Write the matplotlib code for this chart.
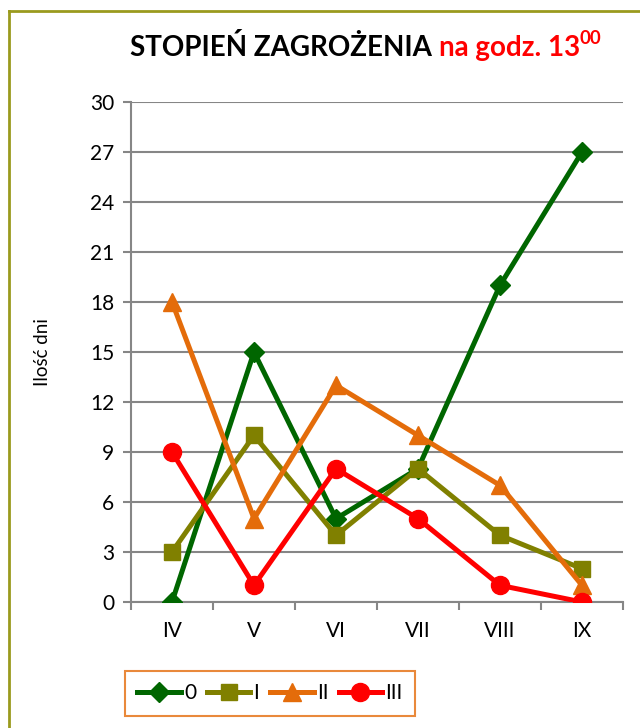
import matplotlib
matplotlib.use("Agg")
from matplotlib import pyplot as plt
from matplotlib.lines import Line2D
import numpy as np

months = ["IV", "V", "VI", "VII", "VIII", "IX"]
s0 = [0, 15, 5, 8, 19, 27]
s1 = [3, 10, 4, 8, 4, 2]
s2 = [18, 5, 13, 10, 7, 1]
s3 = [9, 1, 8, 5, 1, 0]
names = ["0", "I", "II", "III"]
colors = ["#006600", "#808000", "#E46C0A", "#FF0000"]
markers = ["D", "s", "^", "o"]
msizes = [10, 12, 13, 13]

plt.rcParams['font.family'] = ['Lato', 'DejaVu Sans']

fig = plt.figure(figsize=(6.4, 7.28), dpi=100)
ax = fig.add_axes([131/640, 1-602/728, (623-131)/640, 500/728])

x = np.arange(len(months))
for s, c, m, ms, n in zip([s0, s1, s2, s3], colors, markers, msizes, names):
    ax.plot(x, s, color=c, lw=3.6, marker=m, ms=ms, label=n, zorder=3)

ax.set_xlim(-0.5, len(months)-0.5)
ax.set_ylim(0, 30)
ax.set_yticks(range(0, 31, 3))
ax.set_xticks(x)
ax.set_xticklabels(months)
ax.set_xticks(np.arange(-0.5, len(months), 1), minor=True)
ax.tick_params(axis='x', which='major', length=0, pad=14, labelsize=15)
ax.tick_params(axis='x', which='minor', length=6, width=1.5, color="#868686", direction='out')
ax.tick_params(axis='y', length=6, width=1.5, color="#868686", labelsize=15, pad=6)
ax.yaxis.grid(True, color="#868686", lw=1.5)
ax.set_axisbelow(True)
for sp in ["top", "right"]:
    ax.spines[sp].set_visible(False)
for sp in ["left", "bottom"]:
    ax.spines[sp].set_color("#868686")
    ax.spines[sp].set_linewidth(1.5)
ax.set_ylabel("Ilość dni", fontsize=13.5, labelpad=28)

# outer border
fig.add_artist(Line2D([9/640, 9/640], [0, 1-11/728], color="#9A9A1E", lw=2, transform=fig.transFigure))
fig.add_artist(Line2D([9/640, 1], [1-11/728, 1-11/728], color="#9A9A1E", lw=2, transform=fig.transFigure))

# title
fig.canvas.draw()
r = fig.canvas.get_renderer()
ty = 1-56/728
t1 = fig.text(130/640, ty, "STOPIEŃ ZAGROŻENIA ", fontsize=20, fontweight='bold', color='black')
bb = t1.get_window_extent(r)
t2 = fig.text(bb.x1/640, ty, "na godz. 13", fontsize=20, fontweight='bold', color='red')
bb2 = t2.get_window_extent(r)
fig.text(bb2.x1/640, ty+0.016, "00", fontsize=13.5, fontweight='bold', color='red')

leg = fig.legend(loc='center', bbox_to_anchor=(270/640, 1-693/728), ncol=4,
                 fontsize=15, frameon=True, fancybox=False, handlelength=2.1,
                 columnspacing=0.5, handletextpad=0.15, borderpad=0.6, borderaxespad=0)
leg.get_frame().set_edgecolor("#E46C0A")
leg.get_frame().set_linewidth(1.5)

fig.savefig("out.png", dpi=100)
